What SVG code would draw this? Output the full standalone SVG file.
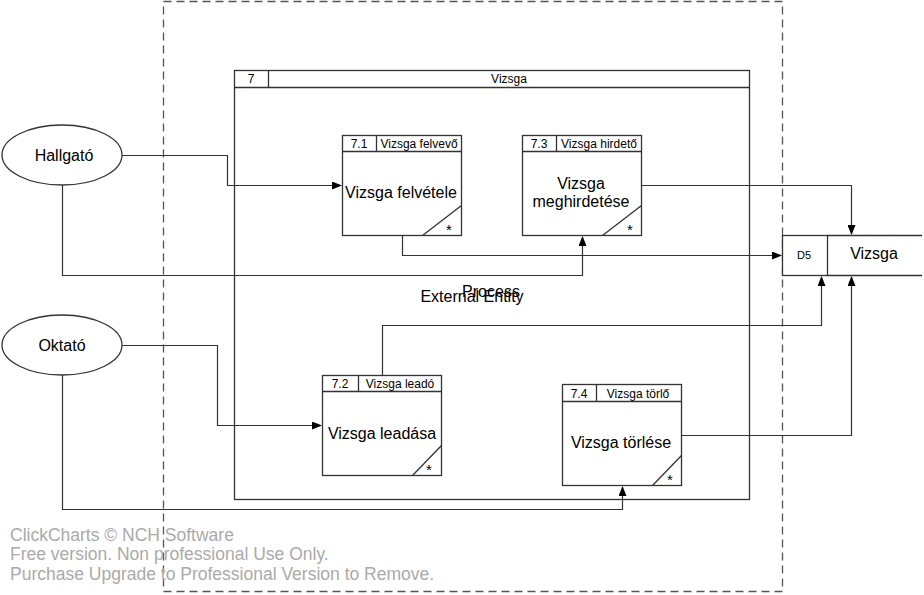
<svg xmlns="http://www.w3.org/2000/svg" width="924" height="595" viewBox="0 0 924 595">
<defs>
<marker id="arr" markerWidth="10" markerHeight="8" refX="9" refY="4" orient="auto" markerUnits="userSpaceOnUse">
<path d="M0,0 L10,4 L0,8 Z" fill="#000"/>
</marker>
<style>
.box{fill:#fff;stroke:#333;stroke-width:1.3}
.ln{fill:none;stroke:#333;stroke-width:1.3}
.con{fill:none;stroke:#333;stroke-width:1.2;marker-end:url(#arr)}
.t{font-family:"Liberation Sans",Arial,sans-serif;fill:#000}
.h{font-size:12px}
.m{font-size:16px}
.wm{font-family:"Liberation Sans",Arial,sans-serif;font-size:17.5px;fill:#aaa}
</style>
</defs>
<rect width="924" height="595" fill="#fff"/>
<g id="boundary">
<rect x="163.5" y="1.5" width="619" height="590" fill="none" stroke="#555" stroke-width="1.3" stroke-dasharray="8,5"/>
</g>
<g id="vizsga-group">
<rect class="box" x="234.5" y="70.5" width="515" height="429"/>
<line class="ln" x1="234.5" y1="87.5" x2="749.5" y2="87.5"/>
<line class="ln" x1="268.5" y1="70.5" x2="268.5" y2="87.5"/>
<text class="t h" x="251" y="83" text-anchor="middle">7</text>
<text class="t h" x="509" y="83" text-anchor="middle">Vizsga</text>
</g>
<g id="labels">
<text class="t" x="491" y="297" font-size="16" text-anchor="middle">Process</text>
<text class="t" x="472" y="302" font-size="16" text-anchor="middle">External Entity</text>
</g>
<g id="hallgato">
<ellipse class="box" cx="62" cy="155" rx="60" ry="30"/>
<text class="t m" x="64" y="161" text-anchor="middle">Hallgató</text>
</g>
<g id="oktato">
<ellipse class="box" cx="62" cy="345" rx="60" ry="30"/>
<text class="t m" x="62" y="351" text-anchor="middle">Oktató</text>
</g>
<g id="p71">
<rect class="box" x="342.5" y="135.5" width="119" height="100"/>
<line class="ln" x1="342.5" y1="151.5" x2="461.5" y2="151.5"/>
<line class="ln" x1="376.5" y1="135.5" x2="376.5" y2="151.5"/>
<line class="ln" x1="422.5" y1="235.5" x2="461.5" y2="205.5"/>
<text class="t h" x="359" y="147.5" text-anchor="middle">7.1</text>
<text class="t h" x="419" y="147.5" text-anchor="middle">Vizsga felvevő</text>
<text class="t m" x="401" y="198" text-anchor="middle">Vizsga felvétele</text>
<text class="t" x="449" y="235" font-size="15" text-anchor="middle">*</text>
</g>
<g id="p73">
<rect class="box" x="522.5" y="135.5" width="119" height="100"/>
<line class="ln" x1="522.5" y1="151.5" x2="641.5" y2="151.5"/>
<line class="ln" x1="556.5" y1="135.5" x2="556.5" y2="151.5"/>
<line class="ln" x1="602.5" y1="235.5" x2="641.5" y2="205.5"/>
<text class="t h" x="539" y="147.5" text-anchor="middle">7.3</text>
<text class="t h" x="599" y="147.5" text-anchor="middle">Vizsga hirdető</text>
<text class="t m" x="581" y="189" text-anchor="middle">Vizsga</text>
<text class="t m" x="581" y="207" text-anchor="middle">meghirdetése</text>
<text class="t" x="630" y="235" font-size="15" text-anchor="middle">*</text>
</g>
<g id="p72">
<rect class="box" x="322.5" y="375.5" width="119" height="100"/>
<line class="ln" x1="322.5" y1="391.5" x2="441.5" y2="391.5"/>
<line class="ln" x1="358.5" y1="375.5" x2="358.5" y2="391.5"/>
<line class="ln" x1="412.5" y1="475.5" x2="441.5" y2="445.5"/>
<text class="t h" x="340" y="387.5" text-anchor="middle">7.2</text>
<text class="t h" x="400" y="387.5" text-anchor="middle">Vizsga leadó</text>
<text class="t m" x="382" y="439" text-anchor="middle">Vizsga leadása</text>
<text class="t" x="429" y="475" font-size="15" text-anchor="middle">*</text>
</g>
<g id="p74">
<rect class="box" x="562.5" y="384.5" width="119" height="101"/>
<line class="ln" x1="562.5" y1="401.5" x2="681.5" y2="401.5"/>
<line class="ln" x1="596.5" y1="384.5" x2="596.5" y2="401.5"/>
<line class="ln" x1="652.5" y1="485.5" x2="681.5" y2="455.5"/>
<text class="t h" x="579" y="397.5" text-anchor="middle">7.4</text>
<text class="t h" x="638" y="397.5" text-anchor="middle">Vizsga törlő</text>
<text class="t m" x="621" y="448" text-anchor="middle">Vizsga törlése</text>
<text class="t" x="670" y="485" font-size="15" text-anchor="middle">*</text>
</g>
<g id="d5">
<rect class="box" x="782.5" y="235.5" width="45" height="40"/>
<line class="ln" x1="827.5" y1="235.5" x2="922" y2="235.5"/>
<line class="ln" x1="827.5" y1="275.5" x2="922" y2="275.5"/>
<text class="t" x="804" y="259" font-size="11" text-anchor="middle">D5</text>
<text class="t m" x="874" y="259" text-anchor="middle">Vizsga</text>
</g>
<g id="connectors">
<polyline class="con" points="122,155.5 227.5,155.5 227.5,185.5 341,185.5"/>
<polyline class="con" points="62.5,185 62.5,275.5 582.5,275.5 582.5,237"/>
<polyline class="con" points="402.5,236 402.5,255.5 781,255.5"/>
<polyline class="con" points="642,185.5 851.5,185.5 851.5,234"/>
<polyline class="con" points="122,345.5 217.5,345.5 217.5,425.5 321,425.5"/>
<polyline class="con" points="62.5,375 62.5,509.5 622.5,509.5 622.5,487"/>
<polyline class="con" points="382.5,375 382.5,325.5 821.5,325.5 821.5,277"/>
<polyline class="con" points="682,435.5 851.5,435.5 851.5,277"/>
</g>
<g id="watermark">
<text class="wm" x="10" y="541">ClickCharts © NCH Software</text>
<text class="wm" x="10" y="560">Free version. Non professional Use Only.</text>
<text class="wm" x="10" y="580">Purchase Upgrade to Professional Version to Remove.</text>
</g>
</svg>
